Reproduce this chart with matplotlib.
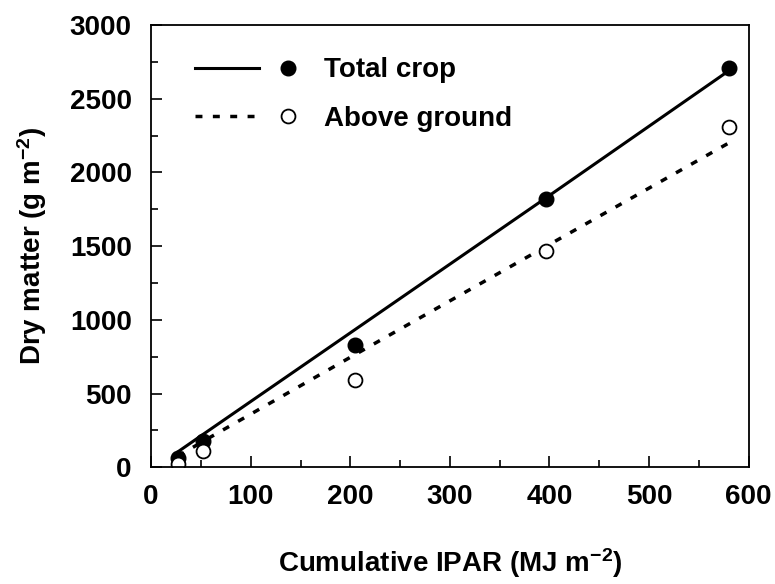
import numpy as np
import matplotlib
matplotlib.use("Agg")
import matplotlib.pyplot as plt
from matplotlib.legend_handler import HandlerTuple
from matplotlib.ticker import MultipleLocator

plt.rcParams['font.family'] = 'Liberation Sans'
plt.rcParams['font.weight'] = 'bold'
plt.rcParams['mathtext.fontset'] = 'custom'
plt.rcParams['mathtext.bf'] = 'Liberation Sans:bold'
plt.rcParams['mathtext.rm'] = 'Liberation Sans:bold'
plt.rcParams['mathtext.default'] = 'bf'

# Cumulative IPAR (MJ m-2)
ipar = [27, 52, 205, 397, 580]
# Dry matter (g m-2)
total_crop = [60, 180, 830, 1820, 2710]
above_ground = [20, 110, 590, 1470, 2310]
# fitted lines
total_fit = [105, 222, 935, 1830, 2690]
above_fit = [75, 175, 765, 1500, 2200]

fs = 20

fig = plt.figure(figsize=(7.75, 5.84), dpi=100)
ax = fig.add_axes([0.195, 0.200, 0.771, 0.757])

l1, = ax.plot(ipar, total_fit, color='black', lw=2.2)
l2, = ax.plot(ipar, above_fit, color='black', lw=2.5, linestyle=(0, (2, 3)))
m1, = ax.plot(ipar, total_crop, 'o', color='black', ms=10.5, ls='none')
m2, = ax.plot(ipar, above_ground, 'o', mfc='white', mec='black', mew=1.3,
              ms=10, ls='none')

ax.set_xlim(0, 600)
ax.set_ylim(0, 3000)
ax.xaxis.set_major_locator(MultipleLocator(100))
ax.xaxis.set_minor_locator(MultipleLocator(50))
ax.yaxis.set_major_locator(MultipleLocator(500))
ax.yaxis.set_minor_locator(MultipleLocator(250))
ax.tick_params(which='both', direction='in', labelsize=fs, width=1.2)
ax.tick_params(which='major', length=8)
ax.tick_params(axis='y', which='major', pad=14)
ax.tick_params(axis='x', which='major', pad=12)
ax.tick_params(which='minor', length=5)
for s in ax.spines.values():
    s.set_linewidth(1.3)

ax.set_xlabel("Cumulative IPAR (MJ m$^{-2}$)", fontsize=fs, fontweight='bold', labelpad=26)
ax.set_ylabel("Dry matter (g m$^{-2}$)", fontsize=fs, fontweight='bold', labelpad=15)

ax.legend([(l1, m1), (l2, m2)], ["Total crop", "Above ground"],
          handler_map={tuple: HandlerTuple(ndivide=2, pad=-0.1)},
          handlelength=4.5, loc='upper left', bbox_to_anchor=(0.055, 0.952),
          borderaxespad=0, frameon=False, fontsize=fs,
          labelspacing=0.8, handletextpad=0.15)

fig.savefig("out.png", dpi=100)
